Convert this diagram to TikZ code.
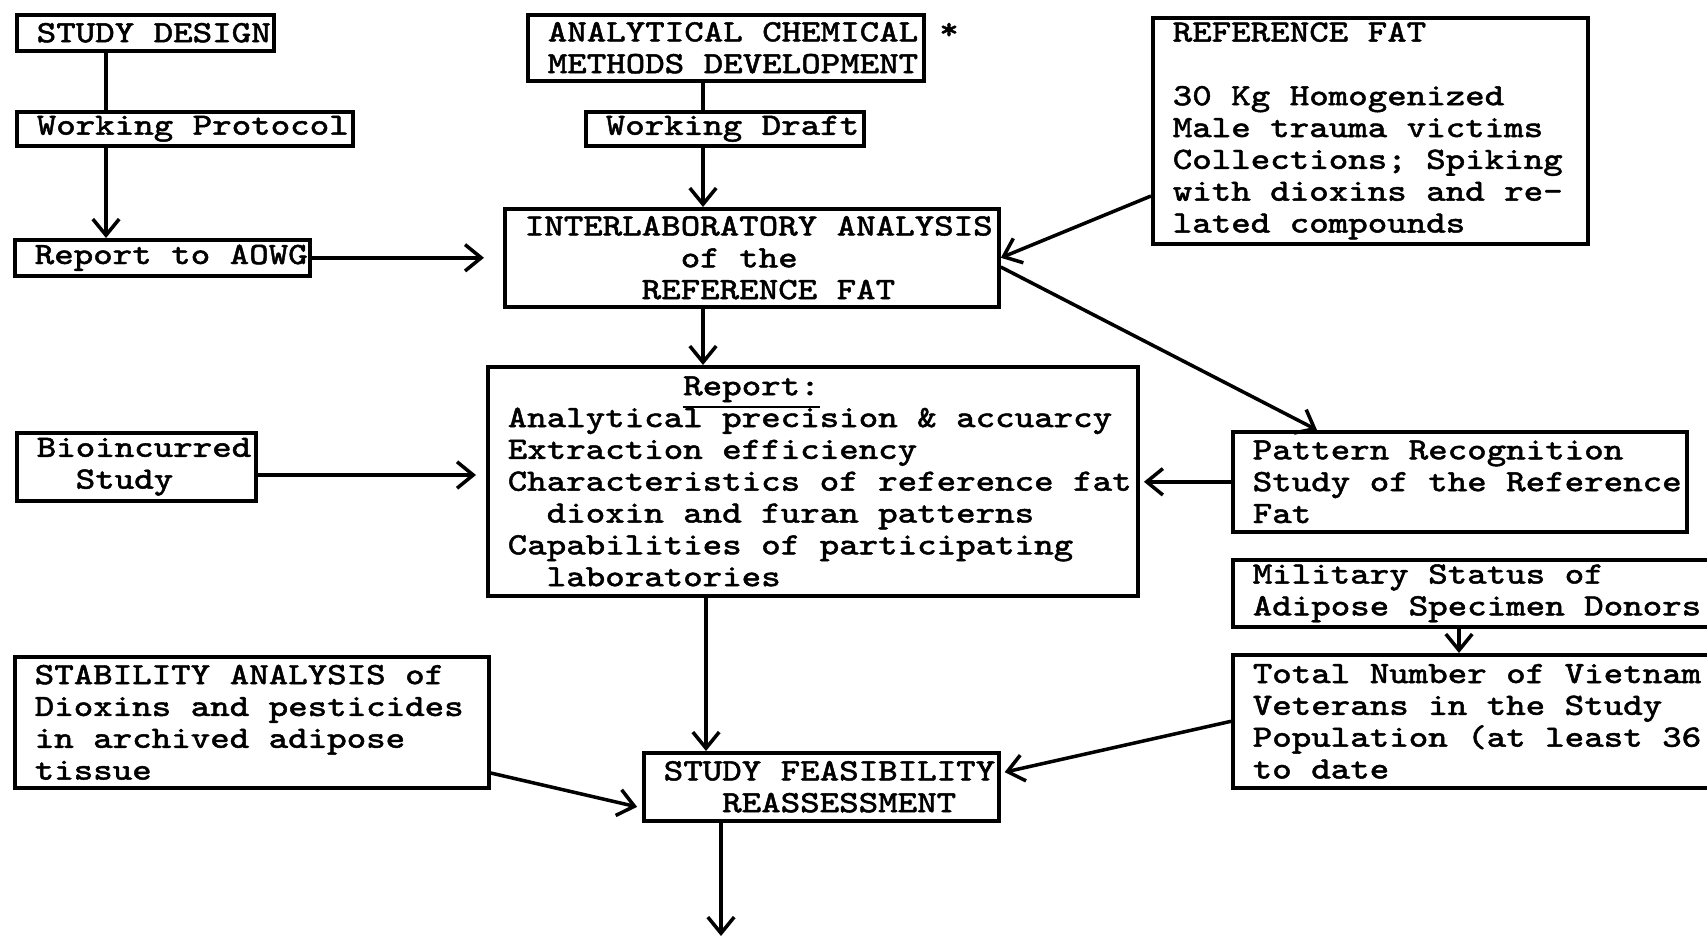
\documentclass[tikz,border=0pt]{standalone}
\usepackage{fontspec}
\newfontfamily\tw{Latin Modern Mono}[FakeBold=1.5, FakeStretch=1.2]
\usetikzlibrary{arrows.meta,calc}
\newlength\cw
\newcommand\twfont{\tw\fontsize{8.8pt}{9.05pt}\selectfont\settowidth\cw{x}\def~{\nobreak\hspace{\cw}}\lineskiplimit=-20pt\hyphenpenalty=10000\exhyphenpenalty=10000\relax}
\newcommand\ind[1]{\hspace*{#1\cw}}
\begin{document}
\begin{tikzpicture}[x=0.01cm,y=-0.01cm,
  box/.style={draw, line width=1pt, anchor=north west, inner xsep=0.2cm, inner ysep=0pt,
    align=left, font=\twfont},
  arr/.style={line width=1pt, -{Straight Barb[length=4.6pt,width=7.5pt]}},
  ln/.style={line width=1pt}]
\useasboundingbox (0,0) rectangle (1707,942);
\fill[white] (0,0) rectangle (1707,942);
\clip (0,0) rectangle (1707,942);

% nodes
\node[box, minimum width=2.57cm, minimum height=0.36cm, text width=2.17cm] (sd) at (15,13) {STUDY~DESIGN};
\node[box, minimum width=3.36cm, minimum height=0.34cm, text width=2.96cm] (wp) at (15,110) {Working~Protocol};
\node[box, minimum width=2.95cm, minimum height=0.36cm, text width=2.55cm] (r2a) at (13,238) {Report~to~AOWG};
\node[box, minimum width=3.96cm, minimum height=0.66cm, text width=3.56cm] (acm) at (526,13) {ANALYTICAL~CHEMICAL\\METHODS~DEVELOPMENT};
\node[font=\twfont, inner sep=0pt] (star) at (949,31) {*};
\node[box, minimum width=2.78cm, minimum height=0.34cm, text width=2.38cm] (wd) at (584,110) {Working~Draft};
\node[box, minimum width=4.94cm, minimum height=0.98cm, text width=4.54cm] (ia) at (503,207)
  {INTERLABORATORY~ANALYSIS\\\ind{8}of~the\\\ind{6}REFERENCE~FAT};
\node[box, minimum width=4.35cm, minimum height=2.26cm, text width=3.95cm] (rf) at (1151,16)
  {REFERENCE~FAT\\\mbox{}\\30~Kg~Homogenized\\Male~trauma~victims\\Collections;~Spiking\\with~dioxins~and~re-\\lated~compounds};
\node[box, minimum width=6.50cm, minimum height=2.29cm, text width=6.10cm] (rep) at (486,365)
  {\ind{9}\underline{Report:}\\
   Analytical~precision~\&~accuarcy\\
   Extraction~efficiency\\
   Characteristics~of~reference~fat\\
   \ind{2}dioxin~and~furan~patterns\\
   Capabilities~of~participating\\
   \ind{2}laboratories};
\node[box, minimum width=2.39cm, minimum height=0.68cm, text width=1.99cm] (bio) at (15,431) {Bioincurred\\\ind{2}Study};
\node[box, minimum width=4.54cm, minimum height=1.00cm, text width=4.14cm] (pr) at (1231,430)
  {Pattern~Recognition\\Study~of~the~Reference\\Fat};
\node[box, minimum width=4.91cm, minimum height=0.67cm, text width=4.51cm] (mil) at (1231,558)
  {Military~Status~of\\Adipose~Specimen~Donors};
\node[box, minimum width=4.91cm, minimum height=1.33cm, text width=4.51cm] (tot) at (1231,653)
  {Total~Number~of~Vietnam\\Veterans~in~the~Study\\Population~(at~least~36\\to~date};
\node[box, minimum width=4.74cm, minimum height=1.31cm, text width=4.34cm] (stab) at (13,655)
  {STABILITY~ANALYSIS~of\\Dioxins~and~pesticides\\in~archived~adipose\\tissue};
\node[box, minimum width=3.55cm, minimum height=0.68cm, text width=3.15cm] (sfr) at (642,751)
  {STUDY~FEASIBILITY\\\ind{3}REASSESSMENT};

% helper coordinates
\coordinate (xa) at (106,0);
\coordinate (xb) at (703,0);
\coordinate (xc) at (706,0);
\coordinate (xd) at (721,0);
\coordinate (xe) at (1459,0);
\coordinate (xf) at (1317,0);
\coordinate (ya) at (0,196);
\coordinate (yb) at (0,267);
\coordinate (yc) at (0,475);
\coordinate (yd) at (0,773);
\coordinate (ye) at (0,808);
\coordinate (out) at (721,936);

% connectors
\draw[ln] (sd.south -| xa) -- (wp.north -| xa);
\draw[arr] (wp.south -| xa) -- (r2a.north -| xa);
\draw[arr, shorten >=0.19cm] (r2a.east) -- (r2a.east -| ia.west);
\draw[ln] (acm.south -| xb) -- (wd.north -| xb);
\draw[arr] (wd.south -| xb) -- (ia.north -| xb);
\draw[arr] (rf.west |- ya) -- (ia.east);
\draw[arr] (ia.east |- yb) -- (pr.north -| xf);
\draw[arr] (ia.south -| xb) -- (rep.north -| xb);
\draw[arr, shorten >=0.1cm] (bio.east |- yc) -- (rep.west |- yc);
\draw[arr, shorten >=0.04cm] (pr.west) -- (pr.west -| rep.east);
\draw[arr] (mil.south -| xe) -- (tot.north -| xe);
\draw[arr, shorten >=0.04cm] (tot.west) -- (sfr.east |- yd);
\draw[arr, shorten >=0.05cm] (stab.east |- yd) -- (sfr.west |- ye);
\draw[arr] (rep.south -| xc) -- (sfr.north -| xc);
\draw[arr] (sfr.south -| xd) -- (out);
\end{tikzpicture}
\end{document}
